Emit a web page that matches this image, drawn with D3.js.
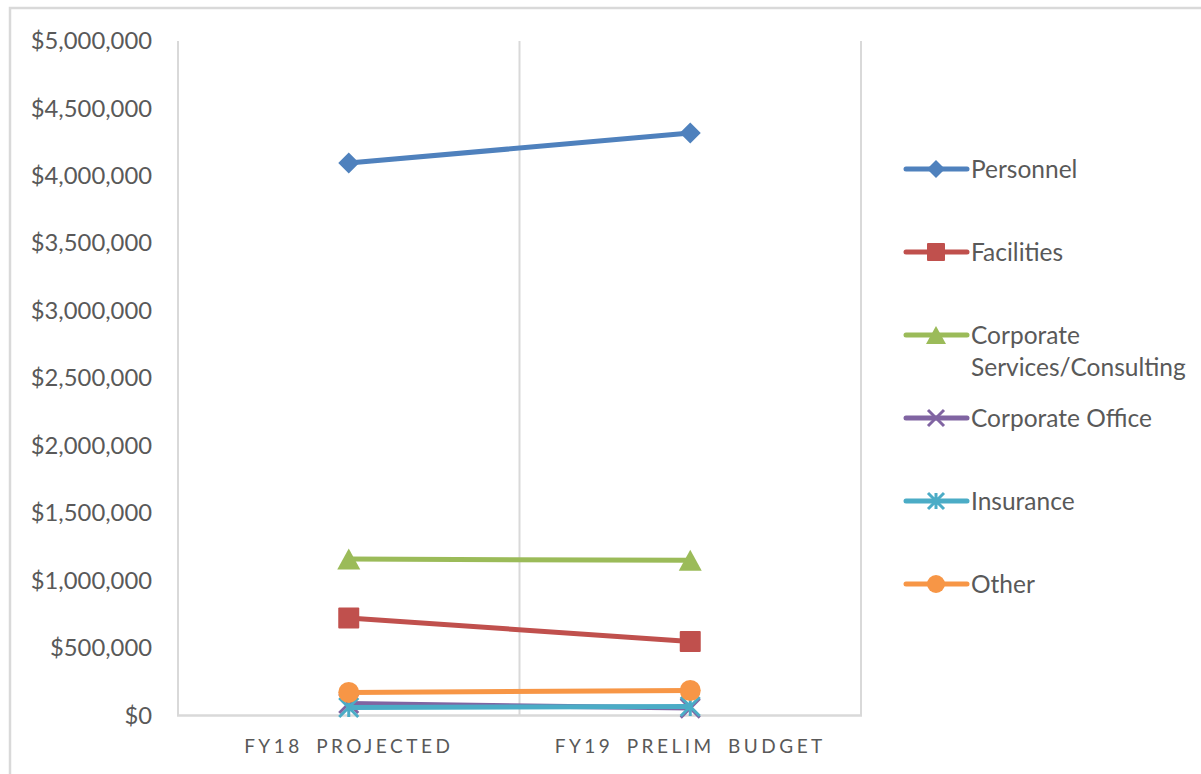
<!DOCTYPE html>
<html>
<head>
<meta charset="utf-8">
<script src="https://cdn.jsdelivr.net/npm/d3@7"></script>
<style>
  html, body { margin: 0; padding: 0; background: #fff; }
  svg { display: block; }
  text { font-family: Lato, "Open Sans", sans-serif; fill: #595959; }
</style>
</head>
<body>
<svg id="chart" width="1201" height="774"></svg>
<script>
// ---- data ----
const categories = ["FY18 PROJECTED", "FY19 PRELIM BUDGET"];
const seriesNames = ["Personnel", "Facilities", "Corporate Services/Consulting", "Corporate Office", "Insurance", "Other"];
const personnel = [4095000, 4318000];
const facilities = [723000, 549000];
const corporateServices = [1160000, 1150000];
const corporateOffice = [89000, 55000];
const insurance = [59000, 67000];
const other = [171000, 185000];
const yTicks = [0, 500000, 1000000, 1500000, 2000000, 2500000, 3000000, 3500000, 4000000, 4500000, 5000000];
const colors = ["#4f81bd", "#c0504d", "#9bbb59", "#8064a2", "#4bacc6", "#f79646"];
const markers = ["diamond", "square", "triangle", "x", "star", "circle"];

const seriesValues = [personnel, facilities, corporateServices, corporateOffice, insurance, other];
const series = seriesNames.map((n, i) => ({ name: n, values: seriesValues[i], color: colors[i], marker: markers[i] }));

const svg = d3.select("#chart");

// outer chart border
svg.append("path").attr("d", "M10,775 L10,8 L1202,8")
  .attr("fill", "none").attr("stroke", "#d9d9d9").attr("stroke-width", 2.5);

const plot = { left: 178, right: 861, top: 41, bottom: 715.5 };

const x = d3.scaleBand().domain(categories).range([plot.left, plot.right]);
const y = d3.scaleLinear().domain([0, 5000000]).range([plot.bottom, plot.top]);

// vertical gridlines at category boundaries
const bounds = [plot.left, ...categories.map(c => x(c) + x.bandwidth())];
svg.append("g").selectAll("line").data(bounds).join("line")
  .attr("x1", d => d).attr("x2", d => d)
  .attr("y1", plot.top).attr("y2", plot.bottom)
  .attr("stroke", "#d9d9d9").attr("stroke-width", 2);

// x axis line
svg.append("line").attr("x1", plot.left - 1).attr("x2", plot.right + 1)
  .attr("y1", plot.bottom).attr("y2", plot.bottom)
  .attr("stroke", "#d9d9d9").attr("stroke-width", 2.5);

// y axis labels
const fmt = d => "$" + d3.format(",")(d);
const yAxis = d3.axisLeft(y).tickValues(yTicks).tickFormat(fmt).tickSize(0).tickPadding(26);
const yg = svg.append("g").attr("transform", `translate(${plot.left},0)`).call(yAxis);
yg.select(".domain").remove();
yg.selectAll("text").attr("font-size", 23.8).attr("fill", "#595959")
  .style("font-family", "Lato, 'Open Sans', sans-serif");

// x axis labels
const xAxis = d3.axisBottom(x).tickSize(0).tickPadding(24);
const xg = svg.append("g").attr("transform", `translate(0,${plot.bottom})`).call(xAxis);
xg.select(".domain").remove();
xg.selectAll("text").attr("font-size", 19).attr("letter-spacing", "3.5px").attr("word-spacing", "5px")
  .attr("fill", "#595959")
  .style("font-family", "Lato, 'Open Sans', sans-serif");

const cx = c => x(c) + x.bandwidth() / 2;

function drawMarker(g, type, color, px, py, s) {
  if (type === "diamond") {
    const h = s / 2;
    g.append("path").attr("d", `M${px},${py - h} L${px + h},${py} L${px},${py + h} L${px - h},${py} Z`)
      .attr("fill", color);
  } else if (type === "square") {
    g.append("rect").attr("x", px - s / 2).attr("y", py - s / 2).attr("width", s).attr("height", s)
      .attr("rx", 1).attr("fill", color);
  } else if (type === "triangle") {
    g.append("path").attr("d", `M${px},${py - s / 2} L${px + s / 2 + 1},${py + s / 2} L${px - s / 2 - 1},${py + s / 2} Z`)
      .attr("fill", color);
  } else if (type === "circle") {
    g.append("circle").attr("cx", px).attr("cy", py).attr("r", s / 2).attr("fill", color);
  } else if (type === "x" || type === "star") {
    const h = s / 2 - 1;
    const p = `M${px - h},${py - h} L${px + h},${py + h} M${px - h},${py + h} L${px + h},${py - h}` +
      (type === "star" ? ` M${px},${py - h} L${px},${py + h}` : "");
    g.append("path").attr("d", p).attr("stroke", color).attr("stroke-width", 3).attr("fill", "none");
  }
}

const line = d3.line().x((d, i) => cx(categories[i])).y(d => y(d));

// draw series in order
series.forEach(s => {
  const g = svg.append("g");
  g.append("path").datum(s.values).attr("d", line)
    .attr("fill", "none").attr("stroke", s.color).attr("stroke-width", 5).attr("stroke-linecap", "round");
  s.values.forEach((v, i) => drawMarker(g, s.marker, s.color, cx(categories[i]), y(v), 21));
});

// legend
const legendY = [169, 252, 335, 418, 501, 584];
const lg = svg.append("g");
series.forEach((s, i) => {
  const ly = legendY[i];
  lg.append("line").attr("x1", 906).attr("x2", 967).attr("y1", ly).attr("y2", ly)
    .attr("stroke", s.color).attr("stroke-width", 5).attr("stroke-linecap", "round");
  drawMarker(lg, s.marker, s.color, 936, ly, 18);
  const t = lg.append("text").attr("x", 971).attr("y", ly).attr("dy", "0.35em")
    .attr("font-size", 24.5);
  if (s.name === "Corporate Services/Consulting") {
    t.append("tspan").attr("x", 971).text("Corporate");
    t.append("tspan").attr("x", 971).attr("dy", "1.34em").text("Services/Consulting");
  } else {
    t.text(s.name);
  }
});
</script>
</body>
</html>
